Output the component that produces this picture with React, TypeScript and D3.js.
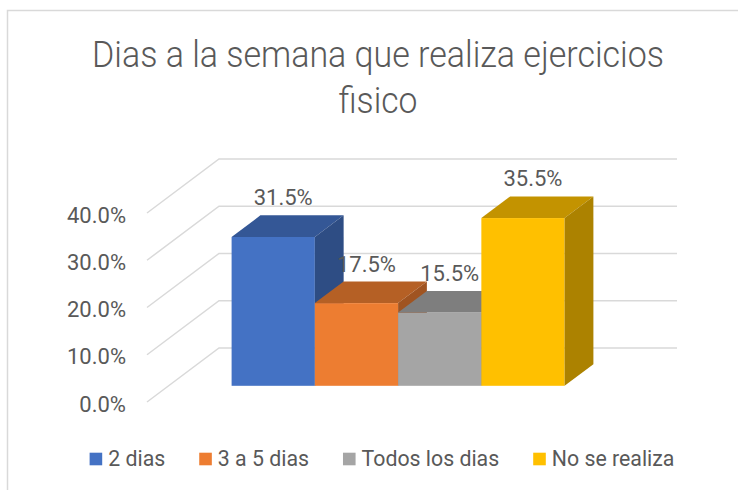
import React, {useEffect, useRef} from 'react';
import * as d3 from 'd3';

const series = ['2 dias', '3 a 5 dias', 'Todos los dias', 'No se realiza'];
const values = [0.315, 0.175, 0.155, 0.355];
const colors = ['#4472C4', '#ED7D31', '#A5A5A5', '#FFC000'];
const yTicks = [0, 0.1, 0.2, 0.3, 0.4];
const titleLines = ['Dias a la semana que realiza ejercicios', 'fisico'];

const font = "Roboto, 'Liberation Sans', sans-serif";
const textColor = '#595959';

function App() {
  const chartRef = useRef<SVGSVGElement>(null);

  const width = 738;
  const height = 490;

  // the side wall runs from its front edge (x=147) back to the back wall
  const wallLeft = 147;
  const wallRight = 677;
  const depthX = 72;
  const depthY = -54;
  // bars sit in the middle of the depth
  const barFront = 0.3;
  const barBack = 0.7;

  const yScale = d3.scaleLinear()
    .domain([0, 0.4])
    .range([402, 213]);
  const xScale = d3.scaleBand()
    .domain(series)
    .range([210, 543])
    .padding(0);

  useEffect(() => {
    const svg = d3.select(chartRef.current);
    svg.selectAll('*').remove();

    // chart border
    svg.append('rect')
      .attr('x', 7.5)
      .attr('y', 10.5)
      .attr('width', 800)
      .attr('height', 600)
      .attr('fill', '#fff')
      .attr('stroke', '#D9D9D9')
      .attr('stroke-width', 1.5);

    // title
    svg.append('g')
      .selectAll('text')
      .data(titleLines)
      .enter()
      .append('text')
      .attr('x', 378)
      .attr('y', (d, i) => 66.7 + i * 46)
      .attr('text-anchor', 'middle')
      .attr('font-family', font)
      .attr('font-weight', 300)
      .attr('font-size', 36)
      .attr('fill', textColor)
      .attr('textLength', (d, i) => i === 0 ? 572 : 79)
      .attr('lengthAdjust', 'spacingAndGlyphs')
      .text(d => d);

    // gridlines: side wall diagonal then back wall
    svg.append('g')
      .selectAll('path')
      .data(yTicks)
      .enter()
      .append('path')
      .attr('d', d => {
        const y = yScale(d);
        return `M${wallLeft},${y}L${wallLeft + depthX},${y + depthY}L${wallRight},${y + depthY}`;
      })
      .attr('fill', 'none')
      .attr('stroke', '#D9D9D9')
      .attr('stroke-width', 1.5);

    // y axis labels
    svg.append('g')
      .selectAll('text')
      .data(yTicks)
      .enter()
      .append('text')
      .attr('x', 126)
      .attr('y', d => yScale(d) + 9.5)
      .attr('text-anchor', 'end')
      .attr('font-family', font)
      .attr('font-size', 22)
      .attr('fill', textColor)
      .text(d => d3.format('.1%')(d));

    // 3d bars
    const offX = depthX * barFront;
    const offY = depthY * barFront;
    const ddx = depthX * (barBack - barFront);
    const ddy = depthY * (barBack - barFront);
    const w = xScale.bandwidth();
    const base = yScale(0) + offY;

    const bars = svg.append('g')
      .selectAll('g')
      .data(series)
      .enter()
      .append('g');

    bars.append('rect')
      .attr('x', d => xScale(d)! + offX)
      .attr('y', (d, i) => yScale(values[i]) + offY)
      .attr('width', w)
      .attr('height', (d, i) => base - (yScale(values[i]) + offY))
      .attr('fill', (d, i) => colors[i]);

    bars.append('path')
      .attr('d', (d, i) => {
        const x0 = xScale(d)! + offX;
        const yt = yScale(values[i]) + offY;
        return `M${x0},${yt}L${x0 + w},${yt}L${x0 + w + ddx},${yt + ddy}L${x0 + ddx},${yt + ddy}Z`;
      })
      .attr('fill', (d, i) => d3.color(colors[i])!.darker(0.75).toString());

    bars.append('path')
      .attr('d', (d, i) => {
        const x1 = xScale(d)! + offX + w;
        const yt = yScale(values[i]) + offY;
        return `M${x1},${yt}L${x1 + ddx},${yt + ddy}L${x1 + ddx},${base + ddy}L${x1},${base}Z`;
      })
      .attr('fill', (d, i) => d3.color(colors[i])!.darker(1.1).toString());

    // data labels
    svg.append('g')
      .selectAll('text')
      .data(series)
      .enter()
      .append('text')
      .attr('x', d => xScale(d)! + offX + w / 2 + 10)
      .attr('y', (d, i) => yScale(values[i]) + offY + ddy - 10)
      .attr('text-anchor', 'middle')
      .attr('font-family', font)
      .attr('font-size', 22)
      .attr('fill', textColor)
      .text((d, i) => d3.format('.1%')(values[i]));

    // legend, laid out from measured text widths and centred
    const legend = svg.append('g');
    const items = legend.selectAll('g')
      .data(series)
      .enter()
      .append('g');
    items.append('rect')
      .attr('y', 452.7)
      .attr('width', 12.6)
      .attr('height', 12.6)
      .attr('fill', (d, i) => colors[i]);
    const labels = items.append('text')
      .attr('x', 18.6)
      .attr('y', 465.5)
      .attr('font-family', font)
      .attr('font-size', 21.3)
      .attr('fill', textColor)
      .text(d => d);

    const widths: number[] = [];
    labels.each(function () {
      widths.push((this as SVGTextElement).getComputedTextLength());
    });
    const gap = 34;
    const itemW = widths.map(t => 18.6 + t);
    const total = d3.sum(itemW) + gap * (series.length - 1);
    let x = 382 - total / 2;
    items.attr('transform', (d, i) => {
      const tx = x;
      x += itemW[i] + gap;
      return `translate(${tx},0)`;
    });
  }, []);

  return (
    <svg
      ref={chartRef}
      width={width}
      height={height}
      viewBox={`0 0 ${width} ${height}`}
      style={{position: 'absolute', left: 0, top: 0, display: 'block'}}
    />
  );
}

export default App;
